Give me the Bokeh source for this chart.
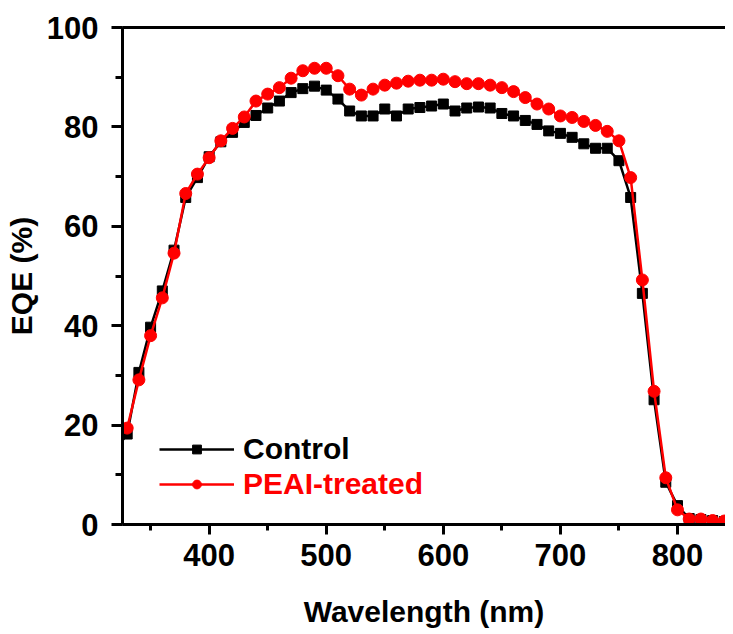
from bokeh.plotting import figure
from bokeh.models import Range1d, LinearAxis, SingleIntervalTicker, FixedTicker, Legend
from bokeh.embed import file_html
from bokeh.resources import INLINE

wavelength = list(range(320, 850, 10))

control = [15.0, 18.2, 30.6, 39.7, 47.0, 55.2, 65.8, 69.8, 74.0, 77.0,
           78.9, 80.9, 82.3, 83.8, 85.2, 86.9, 87.7, 88.2, 87.4, 85.6,
           83.2, 82.2, 82.2, 83.6, 82.2, 83.6, 83.9, 84.2, 84.6, 83.2,
           83.8, 84.0, 83.8, 82.7, 82.2, 81.3, 80.5, 79.2, 78.7, 77.9,
           76.6, 75.7, 75.7, 73.2, 65.8, 46.5, 25.1, 8.5, 3.8, 1.2,
           1.0, 0.8, 0.6]

peai = [17.4, 19.4, 29.1, 38.0, 45.6, 54.6, 66.6, 70.5, 73.8, 77.2,
        79.7, 82.0, 85.2, 86.6, 87.9, 89.8, 91.3, 91.8, 91.8, 90.3,
        87.6, 86.4, 87.6, 88.4, 88.8, 89.2, 89.4, 89.4, 89.6, 89.1,
        88.7, 88.7, 88.4, 87.9, 87.1, 85.9, 84.6, 83.6, 82.2, 81.9,
        81.1, 80.3, 79.1, 77.2, 69.8, 49.2, 26.8, 9.4, 2.95, 1.1,
        1.1, 0.8, 0.7]

series_names = ["Control", "PEAI-treated"]
series_colors = ["black", "#ff0000"]

FONT = "Liberation Sans"

p = figure(width=725, height=630, output_backend="svg", toolbar_location=None,
           x_range=Range1d(326, 841), y_range=Range1d(0, 100),
           min_border_left=122, min_border_right=0, min_border_top=27,
           min_border_bottom=106)
p.outline_line_color = None
p.xgrid.visible = False
p.ygrid.visible = False
p.background_fill_color = "white"
p.border_fill_color = "white"

r1l = p.line(wavelength, control, line_color=series_colors[0], line_width=2.5)
r1m = p.scatter(wavelength, control, marker="square", size=10,
                fill_color=series_colors[0], line_color=series_colors[0])
r2l = p.line(wavelength, peai, line_color=series_colors[1], line_width=2.5)
r2m = p.scatter(wavelength, peai, marker="circle", size=12,
                fill_color=series_colors[1], line_color=series_colors[1])

for ax in (p.xaxis[0], p.yaxis[0]):
    ax.axis_line_width = 3
    ax.major_tick_line_width = 3
    ax.minor_tick_line_width = 3
    ax.major_tick_in = 0
    ax.minor_tick_in = 0
    ax.major_label_text_font = FONT
    ax.major_label_text_font_style = "bold"
    ax.major_label_text_font_size = "31px"
    ax.major_label_text_color = "black"
    ax.axis_label_text_font = FONT
    ax.axis_label_text_font_style = "bold"
    ax.axis_label_text_font_size = "30px"
    ax.axis_label_text_color = "black"

p.xaxis[0].ticker = SingleIntervalTicker(interval=100, num_minor_ticks=2)
p.xaxis[0].major_tick_out = 10
p.xaxis[0].minor_tick_out = 6
p.xaxis[0].major_label_standoff = 9
p.xaxis[0].axis_label = "Wavelength (nm)"
p.xaxis[0].axis_label_standoff = 26

p.yaxis[0].ticker = SingleIntervalTicker(interval=20, num_minor_ticks=2)
p.yaxis[0].major_tick_out = 11
p.yaxis[0].minor_tick_out = 7
p.yaxis[0].major_label_standoff = 13
p.yaxis[0].axis_label = "EQE (%)"
p.yaxis[0].axis_label_standoff = 6

top = LinearAxis(ticker=FixedTicker(ticks=[]), axis_line_width=3,
                 major_tick_out=0, major_tick_in=0, minor_tick_out=0,
                 minor_tick_in=0, major_label_text_font_size="0px")
p.add_layout(top, "above")

renderers = [[r1l, r1m], [r2l, r2m]]
locations = [(37, 58), (37, 23)]
for name, color, rs, loc in zip(series_names, series_colors, renderers, locations):
    lg = Legend(items=[(name, rs)], location=loc, orientation="vertical")
    lg.border_line_color = None
    lg.background_fill_alpha = 0
    lg.padding = 0
    lg.margin = 0
    lg.spacing = 0
    lg.glyph_width = 75
    lg.glyph_height = 22
    lg.label_height = 30
    lg.label_standoff = 9
    lg.label_text_font = FONT
    lg.label_text_font_style = "bold"
    lg.label_text_font_size = "30px"
    lg.label_text_color = color
    lg.label_text_baseline = "middle"
    p.add_layout(lg, "center")

html = file_html(p, INLINE)
open("out.html", "w").write(html)
